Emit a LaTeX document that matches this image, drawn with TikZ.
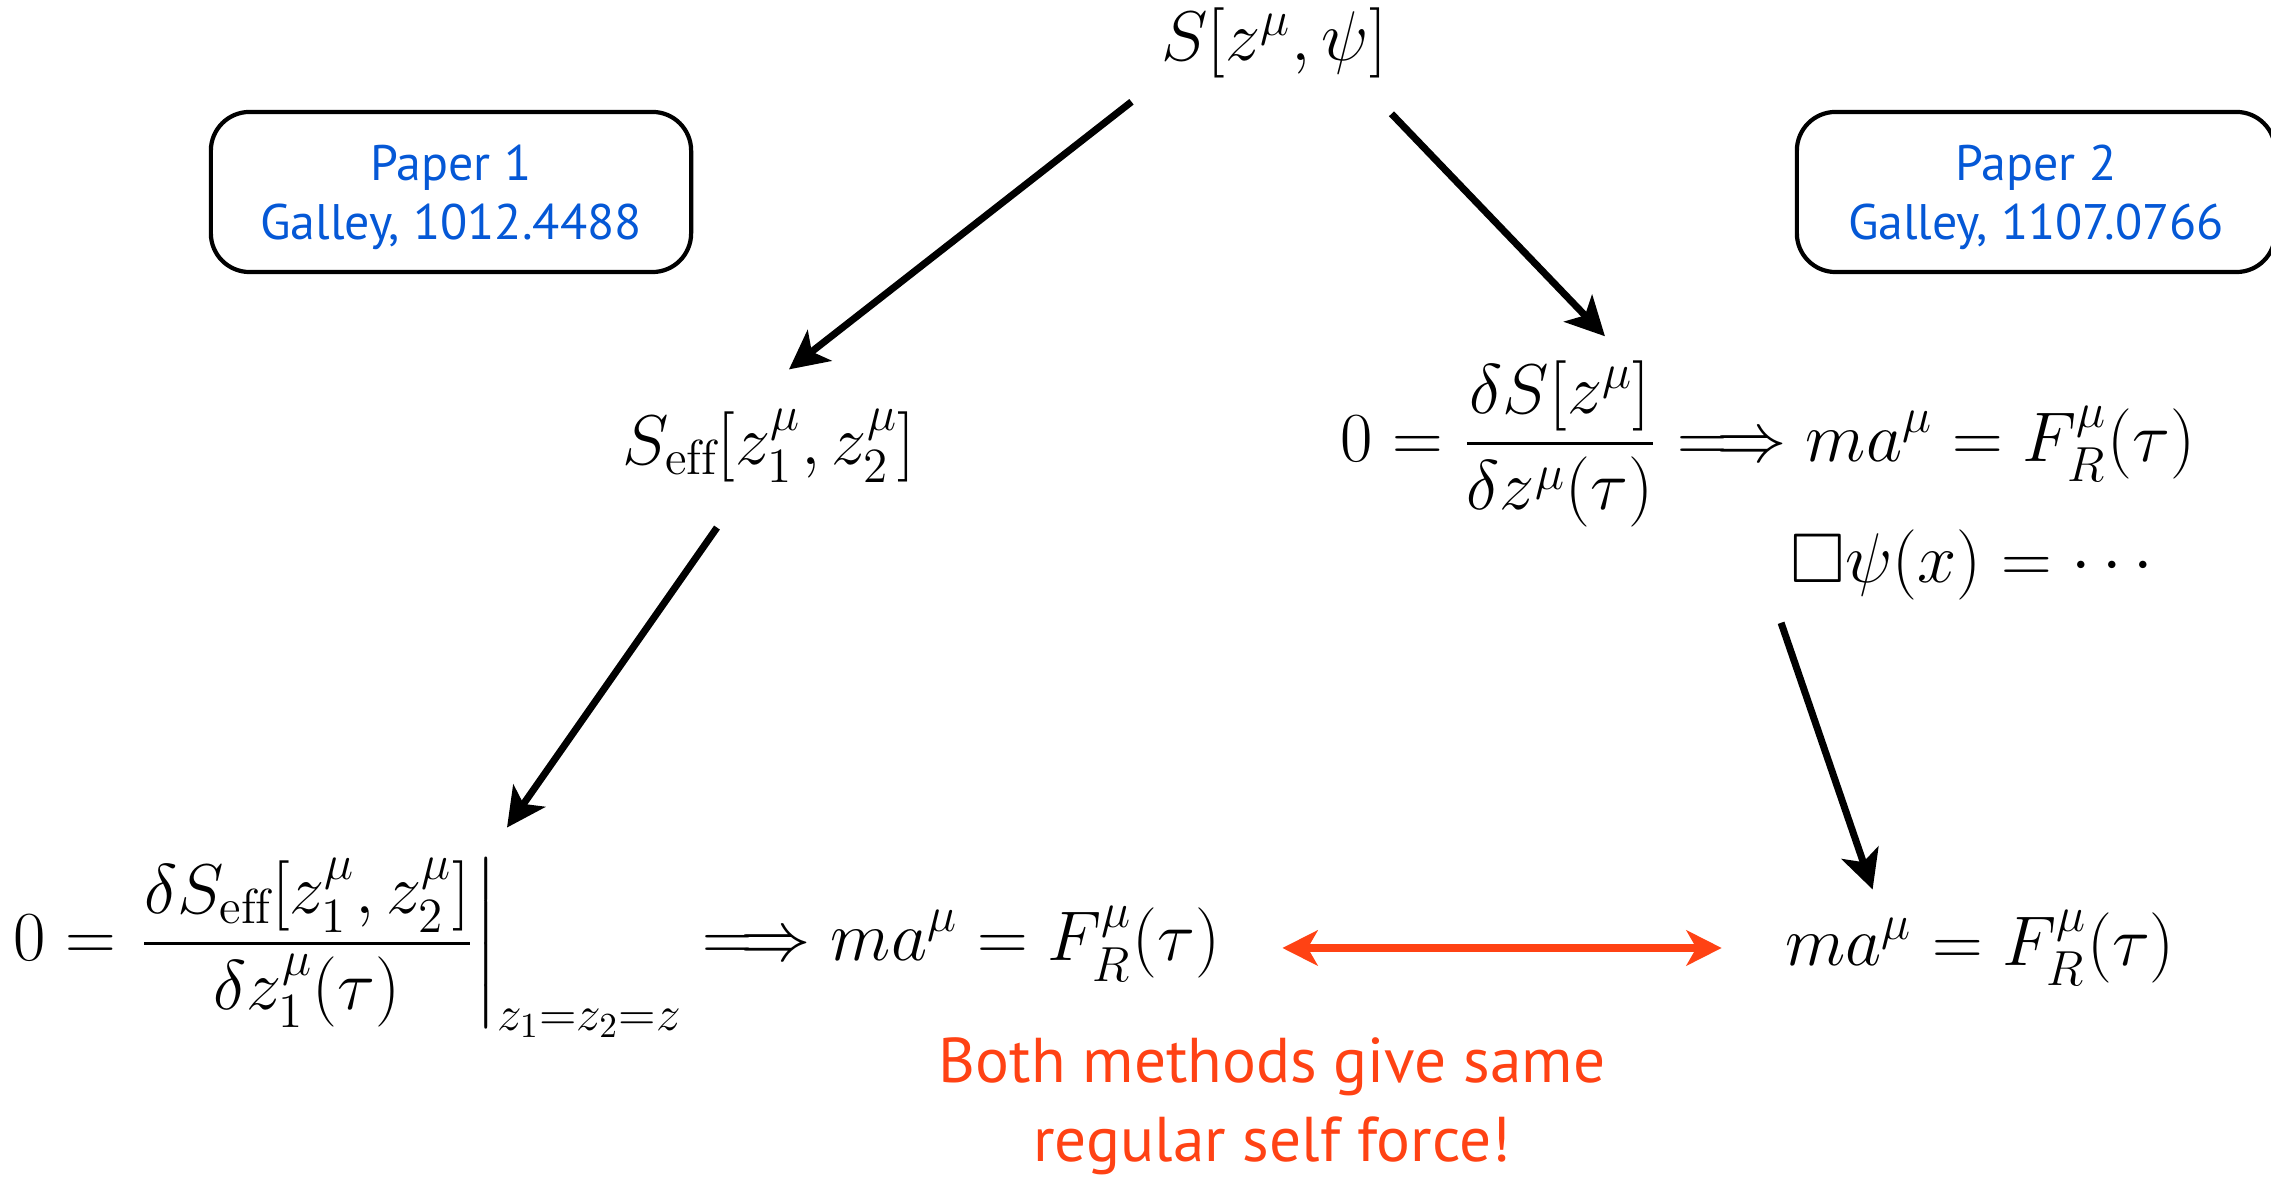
\RequirePackage{fix-cm}
\documentclass[tikz,border=0pt]{standalone}
\usepackage{amsmath}
\usepackage{amssymb}
\usepackage{fontspec}
\newfontfamily\gillsans{PT Sans}
\usetikzlibrary{arrows.meta}
\definecolor{paperblue}{RGB}{5,88,214}
\definecolor{agreered}{RGB}{255,66,20}
\newcommand{\paperstrut}{\rule{0pt}{13.2pt}}

\begin{document}
\begin{tikzpicture}[x=0.01cm, y=-0.01cm,
	eq/.style={inner sep=0pt, font=\fontsize{20}{24}\selectfont},
	paper/.style={draw, line width=1.2pt, rounded corners=11pt, minimum width=4.8cm, minimum height=1.6cm, align=center, text=paperblue, font=\gillsans\fontsize{14.2}{17}\selectfont},
	arr/.style={line width=2pt, -{Stealth[length=11pt, width=11pt, inset=2.8pt]}},
	redarr/.style={agreered, line width=2.3pt, {Stealth[length=10pt, width=10pt, inset=2.8pt]}-{Stealth[length=10pt, width=10pt, inset=2.8pt]}}]
	\useasboundingbox (0,0) rectangle (2271,1177);
	% the two papers
	\node[paper] (paper1) at (451,192) {\paperstrut Paper 1\\Galley, 1012.4488};
	\node[paper, minimum width=4.78cm] (paper2) at (2036,192) {\paperstrut Paper 2\\Galley, 1107.0766};
	% equations
	\node[eq] (action) at (1274,43) {$S[z^\mu,\psi]$};
	\node[eq] (seff) at (769,446) {$S_{\mathrm{eff}}[z_1^\mu, z_2^\mu]$};
	\node[eq] (eomR) at (1768,444) {$\displaystyle 0=\frac{\delta S[z^\mu]}{\delta z^\mu(\tau)}\Longrightarrow ma^\mu=F_R^\mu(\tau)$};
	\node[eq] (wave) at (1978,565) {$\Box\psi(x)=\cdots$};
	\node[eq] (eomL) at (617,948) {$\displaystyle 0=\left.\frac{\delta S_{\mathrm{eff}}[z_1^\mu,z_2^\mu]}{\delta z_1^\mu(\tau)}\right|_{z_1=z_2=z}\Longrightarrow ma^\mu=F_R^\mu(\tau)$};
	\node[eq] (forceR) at (1980,948) {$ma^\mu=F_R^\mu(\tau)$};
	\node[align=center, text=agreered, font=\gillsans\fontsize{18}{22.5}\selectfont] (note) at (1272,1106) {Both methods give same\\regular self force!};
	% arrows
	\draw[arr] ([shift={(-29,23)}]action.south west) -- ([shift={(20,-39)}]seff.north);
	\draw[arr] ([shift={(4,35)}]action.south east) -- ([shift={(265,-24)}]eomR.north west);
	\draw[arr] ([shift={(-52,44)}]seff.south) -- ([shift={(-110,-30)}]eomL.north);
	\draw[arr] ([shift={(-9,22)}]wave.south west) -- ([shift={(88,-20)}]forceR.north west);
	\draw[redarr, shorten <=17.5pt, shorten >=17.9pt] (eomL.east) -- (eomL.east -| forceR.west);
\end{tikzpicture}
\end{document}
